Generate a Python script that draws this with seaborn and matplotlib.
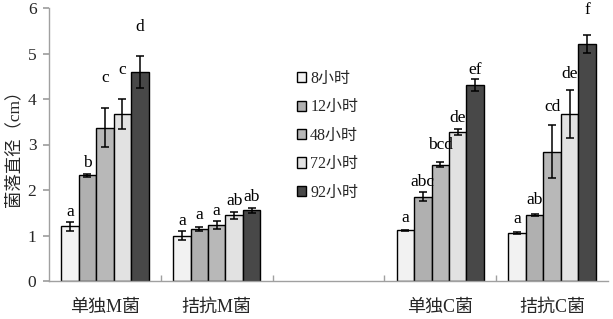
import numpy as np
import pandas as pd
import seaborn as sns
import matplotlib
matplotlib.use("Agg")
import matplotlib.pyplot as plt
from matplotlib.ticker import FixedLocator

# ---------------- data ----------------
categories = ["单独M菌", "拮抗M菌", " ", "单独C菌", "拮抗C菌"]
groups = ["单独M菌", "拮抗M菌", "单独C菌", "拮抗C菌"]
hours = ["8小时", "12小时", "48小时", "72小时", "92小时"]

vals_8 = [1.20, 1.00, 1.11, 1.05]
vals_12 = [2.32, 1.14, 1.85, 1.45]
vals_48 = [3.37, 1.23, 2.56, 2.84]
vals_72 = [3.67, 1.44, 3.27, 3.67]
vals_92 = [4.60, 1.55, 4.31, 5.21]

err_8 = [0.10, 0.10, 0.02, 0.02]
err_12 = [0.03, 0.04, 0.10, 0.02]
err_48 = [0.43, 0.08, 0.06, 0.58]
err_72 = [0.33, 0.07, 0.06, 0.52]
err_92 = [0.35, 0.06, 0.13, 0.20]

letters_8 = ["a", "a", "a", "a"]
letters_12 = ["b", "a", "abc", "ab"]
letters_48 = ["c", "a", "bcd", "cd"]
letters_72 = ["c", "ab", "de", "de"]
letters_92 = ["d", "ab", "ef", "f"]

# baseline heights of the significance letters (data units)
lab_8 = [1.43, 1.23, 1.30, 1.28]
lab_12 = [2.51, 1.36, 2.09, 1.69]
lab_48 = [4.38, 1.45, 2.90, 3.74]
lab_72 = [4.55, 1.67, 3.50, 4.47]
lab_92 = [5.50, 1.76, 4.55, 5.87]

colors = ["#f2f2f2", "#b0b0b0", "#b8b8b8", "#e2e2e2", "#484848"]

all_vals = [vals_8, vals_12, vals_48, vals_72, vals_92]
all_errs = [err_8, err_12, err_48, err_72, err_92]
all_lets = [letters_8, letters_12, letters_48, letters_72, letters_92]
all_labs = [lab_8, lab_12, lab_48, lab_72, lab_92]

rows = []
for h, vs in zip(hours, all_vals):
    for g, v in zip(groups, vs):
        rows.append({"group": g, "hour": h, "value": v})
df = pd.DataFrame(rows)

# ---------------- plot ----------------
sns.set_theme(style="white")
fam = ["Liberation Serif", "Noto Sans CJK SC"]
plt.rcParams["font.family"] = fam

fig = plt.figure(figsize=(6.13, 3.19), dpi=100)
ax = fig.add_axes([49 / 613, 1 - 281 / 319, (608 - 49) / 613, (281 - 8) / 319])

width = 0.78
sns.barplot(data=df, x="group", y="value", hue="hour",
            order=categories, hue_order=hours, palette=colors,
            errorbar=None, width=width, gap=0, dodge=True,
            edgecolor="black", linewidth=1.0, ax=ax, legend=True)

n = len(hours)
bw = width / n
for i, (vs, es, ls, ys) in enumerate(zip(all_vals, all_errs, all_lets, all_labs)):
    xs = [categories.index(g) - width / 2 + bw * (i + 0.5) for g in groups]
    ax.errorbar(xs, vs, yerr=es, fmt="none", ecolor="black",
                elinewidth=1.1, capsize=3, capthick=1.1, zorder=5)
    for x, l, y in zip(xs, ls, ys):
        ax.text(x, y, l, ha="center", va="baseline", fontsize=12.5,
                family=fam, color="black")

ax.set_ylim(0, 6)
ax.set_xlim(-0.5, len(categories) - 0.5)
ax.set_yticks(range(0, 7))
ax.set_xlabel("")
ax.set_ylabel("菌落直径（cm）", fontsize=12.5, family=fam, labelpad=4)

for s in ["top", "right"]:
    ax.spines[s].set_visible(False)
for s in ["left", "bottom"]:
    ax.spines[s].set_color("#a0a0a0")
    ax.spines[s].set_linewidth(1.0)

ax.tick_params(axis="y", direction="out", length=4, color="#a0a0a0",
               labelsize=12.5, left=True, pad=5)
ax.tick_params(axis="x", which="major", length=0, labelsize=13, pad=13)
ax.xaxis.set_minor_locator(FixedLocator([i + 0.5 for i in range(len(categories) - 1)]))
ax.tick_params(axis="x", which="minor", direction="in", length=4,
               color="#a0a0a0", bottom=True)
for t in ax.get_xticklabels() + ax.get_yticklabels():
    t.set_family(fam)

leg = ax.legend(loc="upper left", bbox_to_anchor=(0.443, 0.77), frameon=False,
                handlelength=0.6, handleheight=0.6, handletextpad=0.25,
                labelspacing=0.78, fontsize=11.5, borderaxespad=0,
                borderpad=0)
for t in leg.get_texts():
    t.set_family(fam)
for p in leg.get_patches():
    p.set_edgecolor("black")
    p.set_linewidth(1.0)

fig.savefig("out.png", dpi=100)
